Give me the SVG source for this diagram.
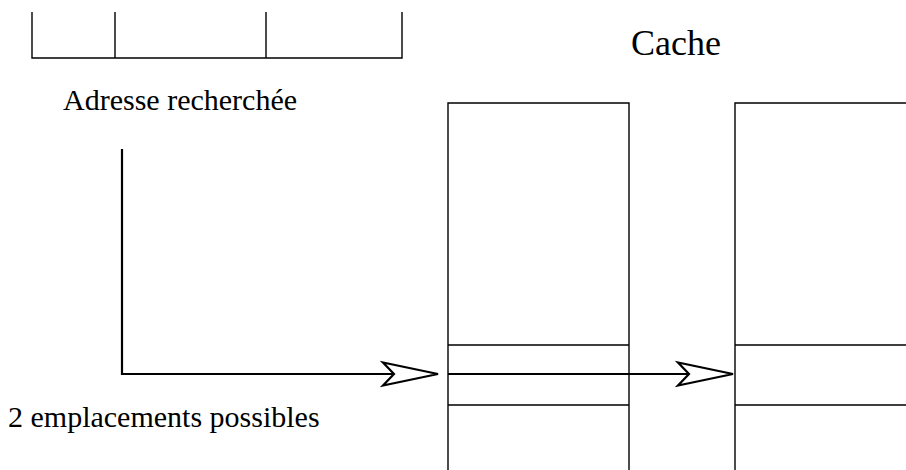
<svg xmlns="http://www.w3.org/2000/svg" width="906" height="470" viewBox="0 0 906 470">
<style>
.ln{stroke:#000;stroke-width:1.4;fill:none}
.cn{stroke:#000;stroke-width:2.2;fill:none}
.tx{fill:#000}
</style>
<defs>
<marker id="ah" markerUnits="userSpaceOnUse" markerWidth="64" markerHeight="30" viewBox="-60 -15 64 30" refX="0" refY="0" orient="auto">
<path d="M0,0 L-55,-11.5 L-44,0 L-55,11.5 Z" fill="#fff" stroke="#000" stroke-width="2.2" stroke-linejoin="miter"/>
</marker>
</defs>
<rect width="906" height="470" fill="#fff"/>
<g id="adresse">
<path class="ln" d="M32,12 V58 H402 V12 M115,12 V58 M266,12 V58"/>
<text class="tx" font-family="'Liberation Serif', 'Times New Roman', 'DejaVu Serif', serif" x="63" y="110" font-size="30">Adresse recherchée</text>
</g>
<g id="cache-title">
<text class="tx" font-family="'Liberation Serif', 'Times New Roman', 'DejaVu Serif', serif" x="631" y="55" font-size="36">Cache</text>
</g>
<g id="cache1">
<path class="ln" d="M448,470 V103 H629 V470 M448,345 H629 M448,405 H629"/>
</g>
<g id="cache2">
<path class="ln" d="M735,470 V103 H906 M735,345 H906 M735,405 H906"/>
</g>
<g id="label-emplacements">
<text class="tx" font-family="'Liberation Serif', 'Times New Roman', 'DejaVu Serif', serif" x="8" y="427" font-size="30">2 emplacements possibles</text>
</g>
<g id="connectors">
<path class="cn" d="M122,149 V374 H438" marker-end="url(#ah)"/>
<path class="cn" d="M448,374 H733" marker-end="url(#ah)"/>
</g>
</svg>
